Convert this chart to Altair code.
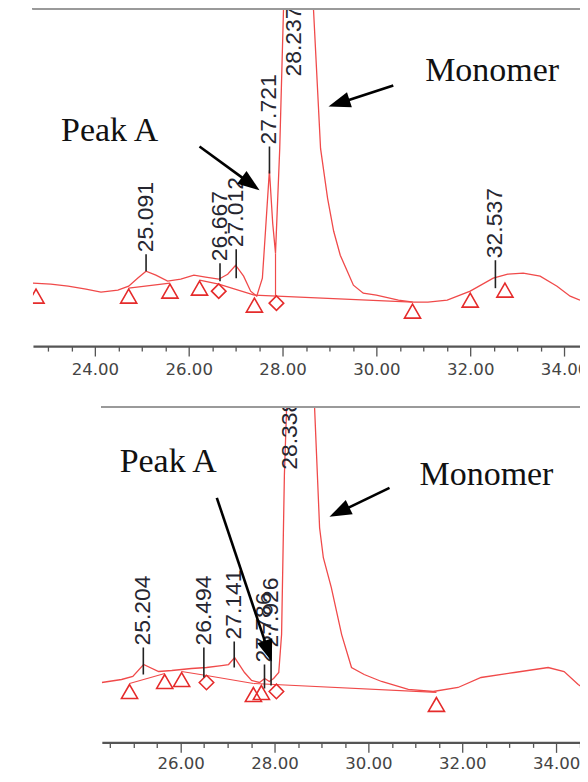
import altair as alt
import pandas as pd
import numpy as np

# ---------------- data ----------------
# Upper chromatogram (retention time in min, signal in arbitrary units)
top_time = [22.68, 23.06, 23.43, 23.81, 24.13, 24.49, 24.72, 24.91, 25.09, 25.30,
            25.55, 25.83, 26.11, 26.36, 26.64, 26.83, 27.00, 27.17, 27.32, 27.45,
            27.57, 27.64, 27.72, 27.79, 27.85, 27.94, 28.02, 28.12, 28.24, 28.45,
            28.66, 28.81, 28.96, 29.09, 29.23, 29.38, 29.51, 29.72, 30.00, 30.47,
            30.79, 31.10, 31.51, 32.00, 32.49, 32.80, 33.13, 33.49, 33.85, 34.13,
            34.34]
top_signal = [6.3, 6.2, 6.0, 5.7, 5.4, 5.6, 6.0, 6.8, 7.5, 7.1,
              6.5, 6.7, 7.1, 6.9, 6.7, 7.2, 8.1, 7.0, 5.5, 5.0,
              6.8, 11.8, 17.6, 12.3, 9.3, 19.8, 33.7, 80.0, 120.0, 80.0,
              33.7, 19.8, 14.8, 11.5, 9.1, 7.5, 6.1, 5.3, 5.1, 4.6,
              4.4, 4.4, 4.6, 5.5, 6.8, 7.2, 7.3, 7.0, 6.0, 5.0,
              4.6]
# integration baselines / drop lines (segment id, time, signal)
top_base_id = [1, 1, 2, 2, 2, 3, 3, 4, 4]
top_base_time = [24.72, 25.60, 26.23, 26.64, 27.40, 27.40, 30.77, 27.85, 27.85]
top_base_signal = [5.8, 6.3, 6.6, 6.2, 5.1, 5.1, 4.4, 9.3, 5.0]
# peak start/end markers
top_tri_time = [22.745, 24.72, 25.60, 26.23, 27.40, 30.77, 32.00, 32.74]
top_tri_signal = [5.0, 5.0, 5.5, 5.8, 4.1, 3.5, 4.6, 5.6]
top_dia_time = [26.64, 27.87]
top_dia_signal = [5.5, 4.3]
# peak labels
top_peak_rt = [25.091, 26.667, 27.012, 27.721, 28.237, 32.537]
top_peak_tick = [7.5, 6.5, 6.8, 17.3, 26.8, 5.8]
top_peak_text = [9.2, 8.3, 9.7, 20.0, 26.8, 8.6]
# annotations
top_ann_text = ["Peak A", "Monomer"]
top_ann_time = [23.28, 31.04]
top_ann_signal = [20.5, 26.6]
top_arrow_from = [(26.23, 20.0), (30.36, 26.1)]
top_arrow_to = [(27.51, 15.6), (28.98, 24.0)]

# Lower chromatogram
bot_time = [24.32, 24.74, 24.98, 25.21, 25.53, 25.81, 26.23, 26.55, 26.87, 27.02,
            27.15, 27.36, 27.51, 27.68, 27.79, 27.89, 27.98, 28.09, 28.15, 28.21,
            28.26, 28.34, 28.60, 28.85, 28.96, 29.04, 29.21, 29.43, 29.64, 29.91,
            30.28, 30.85, 31.38, 31.91, 32.40, 33.11, 33.83, 34.17, 34.47, 34.53]
bot_signal = [6.0, 6.3, 6.6, 7.8, 7.1, 7.2, 7.4, 7.5, 7.7, 7.8,
              8.5, 7.0, 6.2, 6.0, 6.4, 6.1, 6.4, 7.0, 10.8, 26.8,
              33.9, 110.0, 90.0, 33.9, 21.5, 18.5, 15.5, 10.8, 7.5, 6.8,
              6.1, 5.3, 5.1, 5.5, 6.5, 7.0, 7.5, 7.1, 5.8, 5.6]
bot_base_id = [1, 1, 2, 2, 2, 3, 3]
bot_base_time = [24.91, 25.66, 26.02, 26.55, 27.55, 27.55, 31.45]
bot_base_signal = [5.9, 6.9, 7.1, 6.7, 5.9, 5.9, 5.0]
bot_tri_time = [24.91, 25.66, 26.02, 27.55, 27.72, 31.45]
bot_tri_signal = [5.1, 6.1, 6.3, 4.8, 5.0, 3.8]
bot_dia_time = [26.55, 28.04]
bot_dia_signal = [6.0, 5.1]
bot_peak_rt = [25.204, 26.494, 27.141, 27.786, 27.926, 28.338]
bot_peak_tick = [6.8, 6.5, 7.5, 5.4, 5.7, 27.1]
bot_peak_text = [9.5, 9.5, 10.1, 7.8, 9.3, 27.1]
bot_ann_text = ["Peak A", "Monomer"]
bot_ann_time = [24.70, 31.09]
bot_ann_signal = [27.1, 25.8]
bot_arrow_from = [(26.77, 24.5), (30.45, 25.5)]
bot_arrow_to = [(27.94, 8.1), (29.17, 22.6)]

# ---------------- styling ----------------
LINE_RED = "#f04a4a"
MARK_RED = "#e52b2b"
NUM_FONT = "Liberation Sans"
AX_FONT = "DejaVu Sans"
ANN_FONT = "Liberation Serif"
HEAD = 22  # arrowhead length in px
ARROW_SHAPE = "M0,-1L0.72,1L-0.72,1Z"


def panel(cfg):
    W, H = cfg["W"], cfg["H"]
    d0, d1 = cfg["xdom"]
    ymax = cfg["ymax"]
    xs = alt.Scale(domain=[d0, d1], nice=False, zero=False)
    ys = alt.Scale(domain=[0, ymax], nice=False, zero=False)

    ticks = [round(float(v), 1) for v in np.arange(22.5, 35.01, 0.5) if d0 <= v <= d1]
    axis = alt.Axis(
        values=ticks, title=None, grid=False,
        labelExpr="datum.value % 2 === 0 ? format(datum.value, '.2f') : ''",
        tickSize={"condition": {"test": "datum.value % 2 === 0", "value": 10}, "value": 5},
        domainColor="#555555", domainWidth=2.2, tickColor="#555555", tickWidth=1.3,
        labelFont=AX_FONT, labelFontSize=16.6, labelColor="#444444",
        labelPadding=cfg["label_pad"], labelOverlap=False,
    )
    X = lambda f: alt.X(f, type="quantitative", scale=xs, axis=axis, title=None)
    Y = lambda f: alt.Y(f, type="quantitative", scale=ys, axis=None)

    line_df = pd.DataFrame({"t": cfg["time"], "s": cfg["signal"]})
    line = alt.Chart(line_df).mark_line(color=LINE_RED, strokeWidth=1.3, clip=True).encode(
        x=X("t"), y=Y("s"), order="t:Q")

    base_df = pd.DataFrame({"id": cfg["base_id"], "t": cfg["base_time"], "s": cfg["base_signal"]})
    base = alt.Chart(base_df).mark_line(color=LINE_RED, strokeWidth=1.2, clip=True).encode(
        x=X("t"), y=Y("s"), detail="id:N")

    tri_df = pd.DataFrame({"t": cfg["tri_time"], "s": cfg["tri_signal"]})
    tri = alt.Chart(tri_df).mark_point(shape="triangle-up", size=260, filled=False,
                                       color=MARK_RED, strokeWidth=1.6, opacity=1, clip=True).encode(
        x=X("t"), y=Y("s"))
    dia_df = pd.DataFrame({"t": cfg["dia_time"], "s": cfg["dia_signal"]})
    dia = alt.Chart(dia_df).mark_point(shape="diamond", size=210, filled=False,
                                       color=MARK_RED, strokeWidth=1.6, opacity=1, clip=True).encode(
        x=X("t"), y=Y("s"))

    lab_df = pd.DataFrame({"t": cfg["peak_rt"], "s0": cfg["peak_tick"], "s1": cfg["peak_text"],
                           "lab": [f"{v:.3f}" for v in cfg["peak_rt"]]})
    tick = alt.Chart(lab_df).mark_rule(color="#222222", strokeWidth=1.6, clip=True).encode(
        x=X("t"), y=Y("s0"), y2="s1:Q")
    labels = alt.Chart(lab_df).mark_text(angle=270, align="left", baseline="middle", dx=2,
                                         font=NUM_FONT, fontSize=23, color="#262630", clip=True).encode(
        x=X("t"), y=Y("s1"), text="lab:N")

    # arrows: convert through the panel's scales to get direction in screen space
    def to_px(t, s):
        return np.array([(t - d0) / (d1 - d0) * W, H - s / ymax * H])

    def to_data(p):
        return d0 + p[0] / W * (d1 - d0), (H - p[1]) / H * ymax

    rows = []
    for (a, b) in zip(cfg["arrow_from"], cfg["arrow_to"]):
        p0, p1 = to_px(*a), to_px(*b)
        u = (p1 - p0) / np.linalg.norm(p1 - p0)
        shaft_end = to_data(p1 - u * (HEAD - 3))
        head_c = to_data(p1 - u * HEAD / 2)
        ang = float(np.degrees(np.arctan2(u[0], -u[1])) % 360)
        rows.append({"t0": a[0], "s0": a[1], "t1": shaft_end[0], "s1": shaft_end[1],
                     "tc": head_c[0], "sc": head_c[1], "ang": ang})
    arr_df = pd.DataFrame(rows)
    shaft = alt.Chart(arr_df).mark_rule(color="black", strokeWidth=2.6).encode(
        x=X("t0"), y=Y("s0"), x2="t1:Q", y2="s1:Q")
    head = alt.Chart(arr_df).mark_point(shape=ARROW_SHAPE, size=HEAD * HEAD, filled=True,
                                        color="black", opacity=1, strokeWidth=0).encode(
        x=X("tc"), y=Y("sc"), angle=alt.Angle("ang:Q", scale=None))

    ann_df = pd.DataFrame({"t": cfg["ann_time"], "s": cfg["ann_signal"], "txt": cfg["ann_text"]})
    ann = alt.Chart(ann_df).mark_text(align="left", baseline="alphabetic", font=ANN_FONT,
                                      fontSize=34, color="#111111").encode(
        x=X("t"), y=Y("s"), text="txt:N")

    border = alt.Chart(line_df).mark_rule(color="#9a9a9a", strokeWidth=2).encode(
        x=alt.value(0), x2=alt.value(W), y=alt.value(0))

    return alt.layer(line, base, tri, dia, tick, labels, shaft, head, ann, border).properties(
        width=W, height=H)


top_cfg = dict(W=548, H=338, xdom=(22.68, 34.34), ymax=33.8, label_pad=5,
               time=top_time, signal=top_signal,
               base_id=top_base_id, base_time=top_base_time, base_signal=top_base_signal,
               tri_time=top_tri_time, tri_signal=top_tri_signal,
               dia_time=top_dia_time, dia_signal=top_dia_signal,
               peak_rt=top_peak_rt, peak_tick=top_peak_tick, peak_text=top_peak_text,
               ann_text=top_ann_text, ann_time=top_ann_time, ann_signal=top_ann_signal,
               arrow_from=top_arrow_from, arrow_to=top_arrow_to)
bot_cfg = dict(W=480, H=336, xdom=(24.32, 34.53), ymax=33.6, label_pad=3,
               time=bot_time, signal=bot_signal,
               base_id=bot_base_id, base_time=bot_base_time, base_signal=bot_base_signal,
               tri_time=bot_tri_time, tri_signal=bot_tri_signal,
               dia_time=bot_dia_time, dia_signal=bot_dia_signal,
               peak_rt=bot_peak_rt, peak_tick=bot_peak_tick, peak_text=bot_peak_text,
               ann_text=bot_ann_text, ann_time=bot_ann_time, ann_signal=bot_ann_signal,
               arrow_from=bot_arrow_from, arrow_to=bot_arrow_to)

top = panel(top_cfg)
bottom = panel(bot_cfg)
spacer = alt.Chart(pd.DataFrame({"v": [0]})).mark_point(opacity=0).encode(
    x=alt.X("v:Q", axis=None), y=alt.Y("v:Q", axis=None)).properties(width=68, height=336)

chart = alt.vconcat(
    top,
    alt.hconcat(spacer, bottom, spacing=0),
    spacing=28,
).properties(
    padding={"left": 24, "top": -1, "right": -8, "bottom": 0},
    background="white",
).configure_view(stroke=None)

chart.save("out.html", embed_options={"renderer": "svg", "actions": False})
